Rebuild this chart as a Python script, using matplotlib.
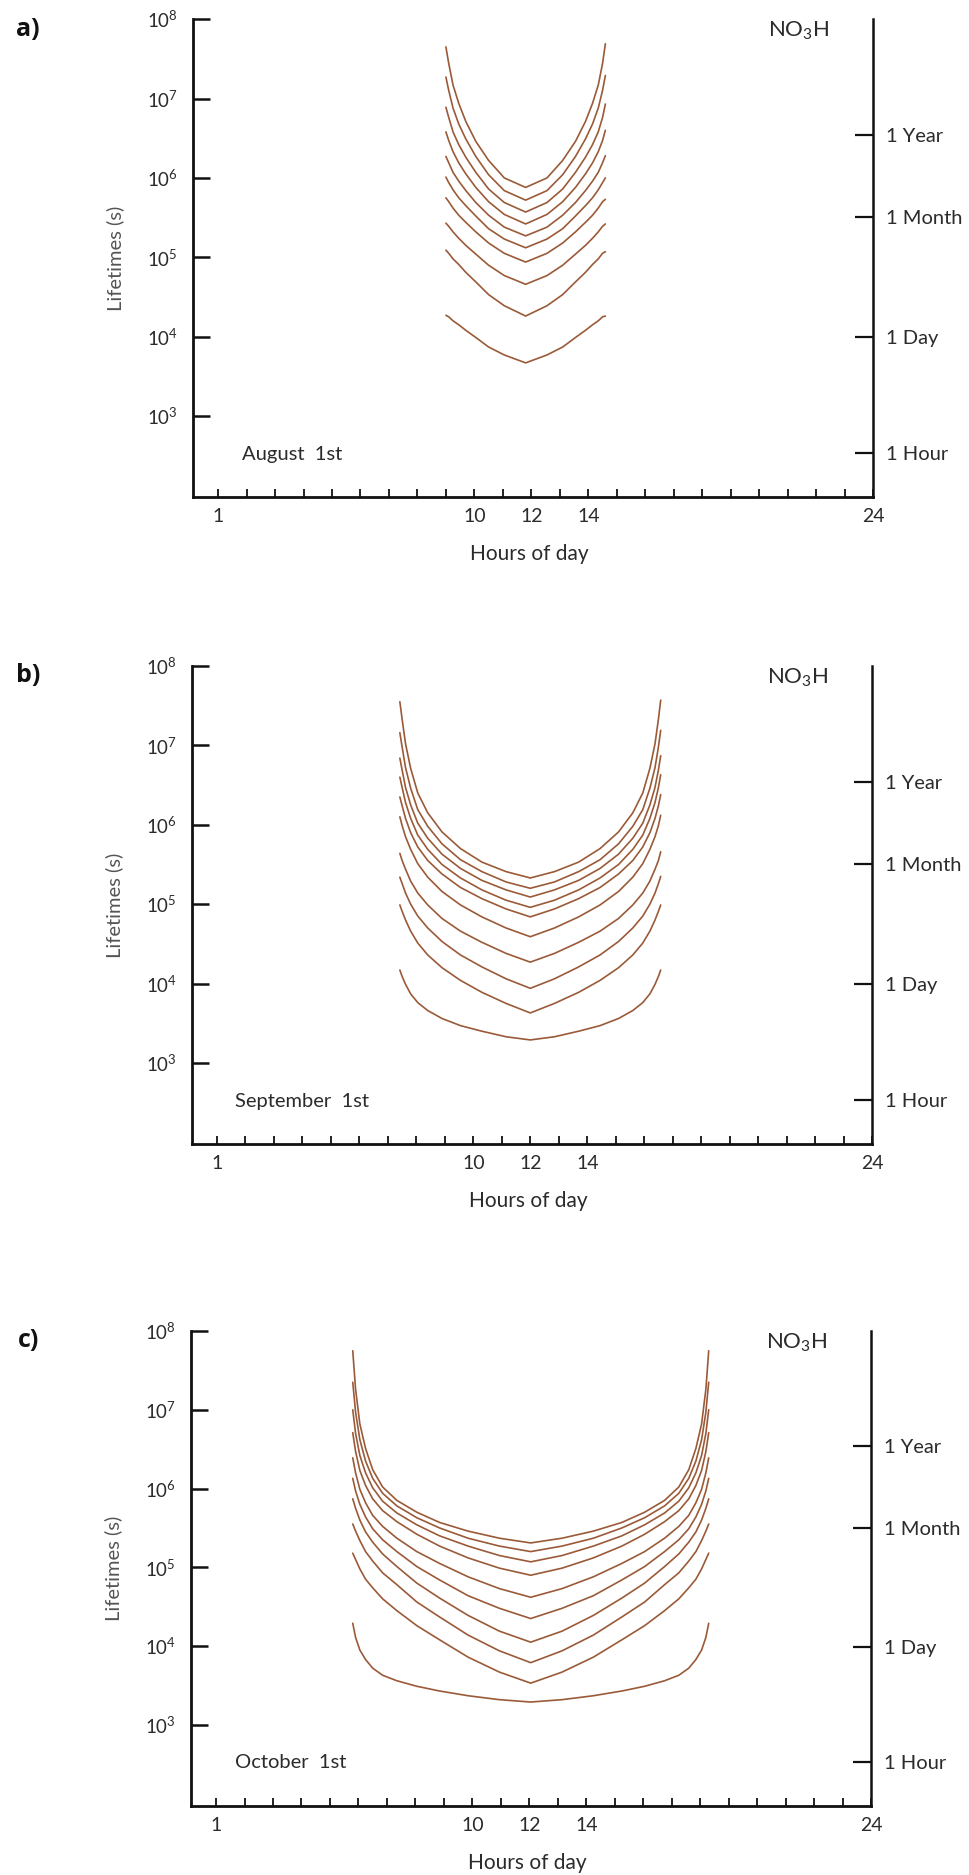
import numpy as np
import matplotlib.pyplot as plt
from matplotlib.ticker import FixedLocator, NullLocator

plt.rcParams['font.family'] = ['Lato', 'DejaVu Sans']
plt.rcParams['mathtext.fontset'] = 'custom'
plt.rcParams['mathtext.rm'] = 'Lato'
plt.rcParams['mathtext.it'] = 'Lato:italic'
plt.rcParams['mathtext.bf'] = 'Lato:bold'

# --- data (log10 of lifetime in s) ---
aug_hours = [9.0, 9.1, 9.25, 9.45, 9.7, 10.05, 10.5, 11.05, 11.8,
             12.55, 13.1, 13.55, 13.9, 14.15, 14.35, 14.5, 14.6]
aug_log_tau = [
    [7.65, 7.44, 7.17, 6.94, 6.71, 6.46, 6.22, 6.00, 5.88, 6.00, 6.22, 6.46, 6.71, 6.94, 7.17, 7.44, 7.69],
    [7.27, 7.10, 6.88, 6.68, 6.49, 6.27, 6.04, 5.84, 5.72, 5.84, 6.04, 6.27, 6.49, 6.68, 6.88, 7.10, 7.29],
    [6.89, 6.76, 6.58, 6.42, 6.26, 6.07, 5.86, 5.69, 5.57, 5.69, 5.86, 6.07, 6.26, 6.42, 6.58, 6.76, 6.93],
    [6.58, 6.47, 6.33, 6.19, 6.05, 5.88, 5.70, 5.54, 5.42, 5.54, 5.70, 5.88, 6.05, 6.19, 6.33, 6.47, 6.60],
    [6.27, 6.19, 6.07, 5.96, 5.84, 5.69, 5.53, 5.38, 5.27, 5.38, 5.53, 5.69, 5.84, 5.96, 6.07, 6.19, 6.28],
    [6.01, 5.94, 5.85, 5.75, 5.65, 5.52, 5.36, 5.23, 5.12, 5.23, 5.36, 5.52, 5.65, 5.75, 5.85, 5.94, 6.00],
    [5.75, 5.70, 5.62, 5.53, 5.44, 5.32, 5.18, 5.05, 4.94, 5.05, 5.18, 5.32, 5.44, 5.53, 5.62, 5.70, 5.73],
    [5.43, 5.39, 5.32, 5.24, 5.15, 5.04, 4.90, 4.77, 4.66, 4.77, 4.90, 5.04, 5.15, 5.24, 5.32, 5.39, 5.42],
    [5.09, 5.05, 4.98, 4.91, 4.81, 4.69, 4.53, 4.39, 4.26, 4.39, 4.53, 4.69, 4.81, 4.91, 4.98, 5.05, 5.07],
    [4.27, 4.25, 4.20, 4.15, 4.08, 3.99, 3.87, 3.77, 3.67, 3.77, 3.87, 3.99, 4.08, 4.15, 4.20, 4.25, 4.26],
]

sep_hours = [7.42, 7.5, 7.62, 7.8, 8.05, 8.4, 8.9, 9.55, 10.3, 11.15, 12.0,
             12.85, 13.7, 14.45, 15.1, 15.6, 15.95, 16.2, 16.38, 16.5, 16.58]
sep_log_tau = [
    [7.55, 7.33, 7.02, 6.71, 6.40, 6.15, 5.91, 5.70, 5.53, 5.41, 5.33, 5.41, 5.53, 5.70, 5.91, 6.15, 6.40, 6.71, 7.02, 7.33, 7.57],
    [7.16, 6.98, 6.72, 6.46, 6.19, 5.98, 5.76, 5.56, 5.41, 5.28, 5.20, 5.28, 5.41, 5.56, 5.76, 5.98, 6.19, 6.46, 6.72, 6.98, 7.19],
    [6.84, 6.69, 6.47, 6.25, 6.02, 5.83, 5.63, 5.45, 5.30, 5.18, 5.09, 5.18, 5.30, 5.45, 5.63, 5.83, 6.02, 6.25, 6.47, 6.69, 6.87],
    [6.60, 6.47, 6.28, 6.08, 5.87, 5.69, 5.50, 5.33, 5.18, 5.05, 4.96, 5.05, 5.18, 5.33, 5.50, 5.69, 5.87, 6.08, 6.28, 6.47, 6.63],
    [6.35, 6.24, 6.08, 5.90, 5.72, 5.55, 5.38, 5.21, 5.07, 4.94, 4.84, 4.94, 5.07, 5.21, 5.38, 5.55, 5.72, 5.90, 6.08, 6.24, 6.38],
    [6.10, 5.99, 5.85, 5.69, 5.51, 5.34, 5.16, 4.99, 4.84, 4.70, 4.59, 4.70, 4.84, 4.99, 5.16, 5.34, 5.51, 5.69, 5.85, 5.99, 6.12],
    [5.64, 5.55, 5.44, 5.29, 5.14, 4.99, 4.82, 4.66, 4.52, 4.38, 4.27, 4.38, 4.52, 4.66, 4.82, 4.99, 5.14, 5.29, 5.44, 5.55, 5.66],
    [5.34, 5.26, 5.14, 5.00, 4.85, 4.70, 4.53, 4.36, 4.21, 4.06, 3.94, 4.06, 4.21, 4.36, 4.53, 4.70, 4.85, 5.00, 5.14, 5.26, 5.35],
    [4.99, 4.91, 4.80, 4.66, 4.51, 4.36, 4.20, 4.04, 3.89, 3.75, 3.63, 3.75, 3.89, 4.04, 4.20, 4.36, 4.51, 4.66, 4.80, 4.91, 4.99],
    [4.17, 4.09, 3.99, 3.87, 3.76, 3.66, 3.56, 3.47, 3.40, 3.33, 3.29, 3.33, 3.40, 3.47, 3.56, 3.66, 3.76, 3.87, 3.99, 4.09, 4.17],
]

oct_hours = [5.8, 5.9, 6.05, 6.25, 6.5, 6.85, 7.35, 8.05, 8.85, 9.85, 10.95, 12.05,
             13.15, 14.25, 15.25, 16.05, 16.75, 17.25, 17.6, 17.85, 18.05, 18.2, 18.3]
oct_log_tau = [
    [7.75, 7.26, 6.82, 6.51, 6.24, 6.02, 5.85, 5.70, 5.57, 5.46, 5.37, 5.31, 5.37, 5.46, 5.57, 5.70, 5.85, 6.02, 6.24, 6.51, 6.82, 7.26, 7.75],
    [7.35, 6.97, 6.62, 6.35, 6.13, 5.94, 5.78, 5.63, 5.50, 5.37, 5.27, 5.20, 5.27, 5.37, 5.50, 5.63, 5.78, 5.94, 6.13, 6.35, 6.62, 6.97, 7.35],
    [7.00, 6.70, 6.42, 6.20, 6.01, 5.84, 5.69, 5.54, 5.40, 5.27, 5.15, 5.07, 5.15, 5.27, 5.40, 5.54, 5.69, 5.84, 6.01, 6.20, 6.42, 6.70, 7.00],
    [6.71, 6.47, 6.23, 6.04, 5.87, 5.72, 5.58, 5.42, 5.27, 5.12, 4.99, 4.90, 4.99, 5.12, 5.27, 5.42, 5.58, 5.72, 5.87, 6.04, 6.23, 6.47, 6.71],
    [6.39, 6.20, 5.99, 5.82, 5.66, 5.52, 5.37, 5.20, 5.05, 4.88, 4.73, 4.62, 4.73, 4.88, 5.05, 5.20, 5.37, 5.52, 5.66, 5.82, 5.99, 6.20, 6.39],
    [6.13, 5.97, 5.80, 5.64, 5.49, 5.35, 5.20, 5.01, 4.84, 4.64, 4.48, 4.35, 4.48, 4.64, 4.84, 5.01, 5.20, 5.35, 5.49, 5.64, 5.80, 5.97, 6.13],
    [5.87, 5.75, 5.60, 5.45, 5.32, 5.17, 5.01, 4.80, 4.61, 4.39, 4.19, 4.05, 4.19, 4.39, 4.61, 4.80, 5.01, 5.17, 5.32, 5.45, 5.60, 5.75, 5.87],
    [5.55, 5.46, 5.34, 5.20, 5.08, 4.93, 4.78, 4.56, 4.37, 4.14, 3.94, 3.79, 3.94, 4.14, 4.37, 4.56, 4.78, 4.93, 5.08, 5.20, 5.34, 5.46, 5.55],
    [5.18, 5.10, 4.98, 4.85, 4.74, 4.60, 4.45, 4.26, 4.08, 3.86, 3.67, 3.53, 3.67, 3.86, 4.08, 4.26, 4.45, 4.60, 4.74, 4.85, 4.98, 5.10, 5.18],
    [4.29, 4.11, 3.95, 3.83, 3.72, 3.63, 3.56, 3.49, 3.43, 3.37, 3.32, 3.29, 3.32, 3.37, 3.43, 3.49, 3.56, 3.63, 3.72, 3.83, 3.95, 4.11, 4.29],
]

left_ticks = [1e3, 1e4, 1e5, 1e6, 1e7, 1e8]
left_labels = [r'$\mathregular{10^{%d}}$' % e for e in range(3, 9)]
right_ticks = [3.4e2, 9.8e3, 3.2e5, 3.5e6]   # where the marks sit on the drawn scale
right_labels = ['1 Hour', '1 Day', '1 Month', '1 Year']
hour_ticks = list(range(1, 25))
hour_labels = {1: '1', 10: '10', 12: '12', 14: '14', 24: '24'}

panel_names = ['a)', 'b)', 'c)']
dates = ['August  1st', 'September  1st', 'October  1st']

# --- layout ---
fig = plt.figure(figsize=(9.69, 18.75), dpi=100)
rects = [
    [0.1992, 0.7349, 0.7018, 0.2549],
    [0.1981, 0.3899, 0.7018, 0.2549],
    [0.1971, 0.0368, 0.7018, 0.2533],
]
ybottom = [10**1.98, 10**1.98, 10**1.97]
label_y = [0.984, 0.6395, 0.2853]
date_x = [1.84, 1.63, 1.67]

line_col = '#9a5a38'
ink = '#2b2b2b'

panels = [(aug_hours, aug_log_tau), (sep_hours, sep_log_tau), (oct_hours, oct_log_tau)]

for i, (hours, logs) in enumerate(panels):
    ax = fig.add_axes(rects[i])
    ax.set_yscale('log')
    ax.set_xlim(0.12, 24)
    ax.set_ylim(ybottom[i], 1e8)

    for row in logs:
        ax.plot(hours, 10 ** np.array(row), color=line_col, lw=1.2,
                solid_joinstyle='round', solid_capstyle='round')

    ax.spines['top'].set_visible(False)
    ax.spines['right'].set_visible(False)
    for s in ['left', 'bottom']:
        ax.spines[s].set_linewidth(2.0)
        ax.spines[s].set_color('#111111')

    ax.yaxis.set_major_locator(FixedLocator(left_ticks))
    ax.yaxis.set_minor_locator(NullLocator())
    ax.set_yticklabels(left_labels)
    ax.tick_params(axis='y', direction='in', length=12, width=1.8, pad=11,
                   labelsize=13.5, labelcolor=ink, color='#111111')

    ax.set_xticks(hour_ticks)
    ax.set_xticklabels([hour_labels.get(h, '') for h in hour_ticks])
    ax.tick_params(axis='x', direction='in', length=5.5, width=1.3, pad=8,
                   labelsize=14, labelcolor=ink, color='#111111')

    ax2 = ax.twinx()
    ax2.set_yscale('log')
    ax2.set_ylim(ax.get_ylim())
    for s in ['top', 'left', 'bottom']:
        ax2.spines[s].set_visible(False)
    ax2.spines['right'].set_linewidth(1.8)
    ax2.spines['right'].set_color('#111111')
    ax2.yaxis.set_major_locator(FixedLocator(right_ticks))
    ax2.yaxis.set_minor_locator(NullLocator())
    ax2.set_yticklabels(right_labels)
    ax2.tick_params(axis='y', direction='in', length=13, width=1.6, pad=9,
                    labelsize=14.5, labelcolor=ink, color='#111111')

    ax.set_ylabel('Lifetimes (s)', fontsize=14.5, color='#555555')
    ax.yaxis.set_label_coords(-0.101, 0.5)
    ax.set_xlabel('Hours of day', fontsize=15, color=ink)
    ax.xaxis.set_label_coords(0.494, -0.098)

    ax.text(date_x[i], 10**2.52, dates[i], fontsize=14.5, color=ink, va='center', ha='left')
    ax.text(21.4, 10**7.85, r'NO$_3$H', fontsize=16, color=ink, va='center', ha='center')

    fig.text(0.029, label_y[i], panel_names[i], fontsize=18, fontweight='bold',
             color='#111111', va='center', ha='center', family=['Open Sans', 'DejaVu Sans'])

fig.savefig('out.png', dpi=100, facecolor='white')
